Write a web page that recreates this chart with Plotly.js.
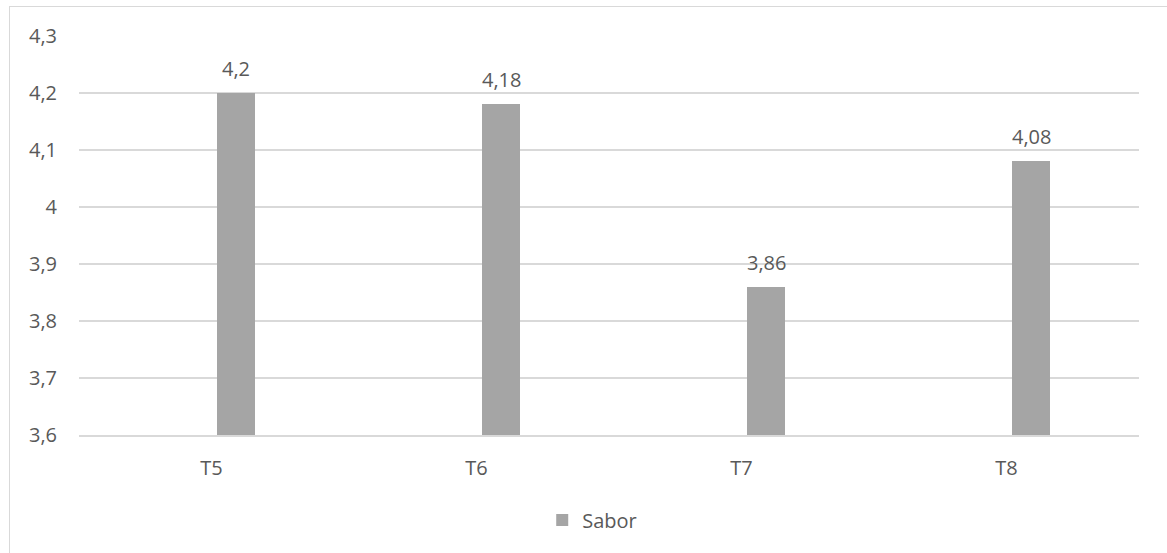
<!DOCTYPE html>
<html>
<head>
<meta charset="utf-8">
<script src="https://cdn.plot.ly/plotly-3.0.1.min.js"></script>
<style>
  html, body { margin: 0; padding: 0; background: #fff; overflow: hidden; }
  #wrap { position: relative; width: 1167px; height: 553px; }
  #frame { position: absolute; left: 9px; top: 6px; width: 1170px; height: 560px; border: 1px solid #d9d9d9; box-sizing: border-box; pointer-events: none; }
  #chart { position: absolute; left: 0; top: 0; width: 1167px; height: 553px; }
</style>
</head>
<body>
<div id="wrap">
  <div id="chart"></div>
  <div id="frame"></div>
</div>
<script>
const categories = ["T5", "T6", "T7", "T8"];
const sabor = [4.2, 4.18, 3.86, 4.08];
const seriesName = "Sabor";
const dataLabels = ["4,2", "4,18", "3,86", "4,08"];

const textColor = "#595959";
const fontFam = "Open Sans, Liberation Sans, sans-serif";
const fs = 20;

const trace = {
  type: "bar",
  x: categories,
  y: sabor,
  name: seriesName,
  marker: { color: "#a5a5a5" },
  width: 0.143,
  offset: 0.021,
  hoverinfo: "x+y"
};

const annotations = categories.map((c, i) => ({
  x: c, y: sabor[i], xref: "x", yref: "y",
  text: dataLabels[i], showarrow: false,
  xshift: 24.5, yanchor: "bottom", yshift: 9,
  font: { family: fontFam, size: fs, color: textColor }
}));

const layout = {
  width: 1167, height: 553,
  margin: { l: 79, r: 28, t: 36, b: 118 },
  paper_bgcolor: "rgba(0,0,0,0)",
  plot_bgcolor: "#fff",
  separators: ",.",
  font: { family: fontFam, size: fs, color: textColor },
  bargap: 0,
  xaxis: {
    type: "category",
    showgrid: false,
    showline: true, linecolor: "#d9d9d9", linewidth: 1.5,
    ticks: "", ticklabelstandoff: 14,
    tickfont: { family: fontFam, size: fs, color: textColor }
  },
  yaxis: {
    range: [3.6, 4.3], dtick: 0.1, tick0: 3.6,
    showgrid: true, gridcolor: "#d9d9d9", gridwidth: 1.5,
    zeroline: false, showline: false,
    ticks: "", ticklabelstandoff: 21,
    tickfont: { family: fontFam, size: fs, color: textColor }
  },
  showlegend: true,
  legend: {
    orientation: "h", x: 0.437, xanchor: "left", y: -0.213, yanchor: "middle",
    font: { family: fontFam, size: fs, color: textColor },
    itemwidth: 30
  },
  annotations: annotations
};

Plotly.newPlot("chart", [trace], layout, { displayModeBar: false, staticPlot: true });
</script>
</body>
</html>
